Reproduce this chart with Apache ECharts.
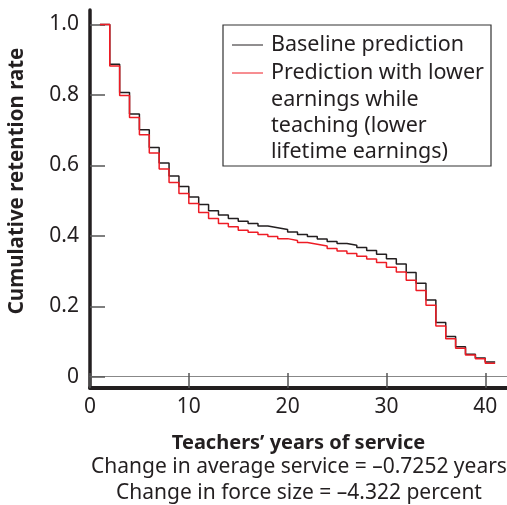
<!DOCTYPE html>
<html>
<head>
<meta charset="utf-8">
<script src="https://cdn.jsdelivr.net/npm/echarts@6/dist/echarts.min.js"></script>
<style>
html,body{margin:0;padding:0;background:#fff;}
#chart{width:507px;height:505px;}
</style>
</head>
<body>
<div id="chart"></div>
<script>
// Years of service (step start positions; last entry closes the final step)
const years = [1,2,3,4,5,6,7,8,9,10,11,12,13,14,15,16,17,18,19,20,21,22,23,24,25,26,27,28,29,30,31,32,33,34,35,36,37,38,39,40,41];
// Baseline prediction (cumulative retention rate)
const baseline = [1.0,0.887,0.807,0.746,0.701,0.651,0.607,0.570,0.540,0.510,0.489,0.471,0.459,0.449,0.441,0.435,0.428,0.423,0.418,0.411,0.404,0.398,0.391,0.384,0.378,0.373,0.367,0.358,0.348,0.335,0.320,0.296,0.265,0.218,0.154,0.114,0.085,0.064,0.053,0.042,0.042];
// Prediction with lower earnings while teaching
const lowerEarnings = [1.0,0.882,0.798,0.736,0.687,0.635,0.590,0.551,0.520,0.492,0.466,0.449,0.435,0.4255,0.416,0.410,0.404,0.398,0.392,0.387,0.381,0.376,0.371,0.364,0.357,0.350,0.342,0.334,0.324,0.311,0.297,0.274,0.245,0.203,0.144,0.108,0.081,0.062,0.051,0.038,0.038];
const xTicks = [0,10,20,30,40];
const yTicks = [0,0.2,0.4,0.6,0.8,1.0];
const seriesNames = ['Baseline prediction','Prediction with lower earnings while teaching (lower lifetime earnings)'];
const legendLines = ['Baseline prediction','Prediction with lower','earnings while','teaching (lower','lifetime earnings)'];
const xTitle = 'Teachers\u2019 years of service';
const yTitle = 'Cumulative retention rate';
const notes = ['Change in average service = \u20130.7252 years','Change in force size = \u20134.322 percent'];

const FONT = '"Noto Sans", sans-serif';
const chart = echarts.init(document.getElementById('chart'), null, {renderer:'canvas'});
const pair = arr => years.map((y,i)=>[y, arr[i]]);

chart.setOption({
  animation:false,
  backgroundColor:'#fff',
  grid:{left:90, top:10, width:417, height:378, containLabel:false},
  xAxis:[{
    type:'value', min:0, max:42.2,
    axisLine:{show:true, onZero:false, lineStyle:{color:'#231f20', width:4}},
    axisTick:{show:true, inside:true, length:15, customValues:xTicks, lineStyle:{color:'#555', width:1.5}},
    axisLabel:{show:true, customValues:xTicks, color:'#231f20', fontSize:21, fontFamily:FONT, margin:9},
    splitLine:{show:false},
    name:xTitle, nameLocation:'middle', nameGap:45,
    nameTextStyle:{fontSize:20, fontWeight:'bold', color:'#231f20', fontFamily:FONT}
  },{
    type:'value', position:'top', min:0, max:42.2,
    axisLine:{show:true, lineStyle:{color:'#888', width:1}},
    axisTick:{show:false}, axisLabel:{show:false}, splitLine:{show:false}
  }],
  yAxis:{
    type:'value', min:-0.032, max:1.041,
    axisLine:{show:true, onZero:false, lineStyle:{color:'#231f20', width:3.5}},
    axisTick:{show:true, inside:true, length:15, customValues:yTicks, lineStyle:{color:'#555', width:1.5}},
    axisLabel:{show:true, customValues:yTicks, color:'#231f20', fontSize:21, fontFamily:FONT, margin:11,
      formatter: v => v === 0 ? '0' : v.toFixed(1)},
    splitLine:{show:false}
  },
  series:[
    {name:seriesNames[0], type:'line', step:'end', showSymbol:false, data:pair(baseline),
     lineStyle:{color:'#231f20', width:1.5}, z:2},
    {name:seriesNames[1], type:'line', step:'end', showSymbol:false, data:pair(lowerEarnings),
     lineStyle:{color:'#ee1c25', width:1.5}, z:3}
  ],
  graphic:[
    {type:'text', x:17, y:181, rotation:Math.PI/2,
     style:{text:yTitle, fontSize:20.5, fontWeight:'bold', fontFamily:FONT, fill:'#231f20', align:'center', verticalAlign:'middle'}},
    {type:'text', x:299, y:467,
     style:{text:notes[0], fontSize:21, fontFamily:FONT, fill:'#231f20', align:'center', verticalAlign:'middle'}},
    {type:'text', x:299, y:493,
     style:{text:notes[1], fontSize:21, fontFamily:FONT, fill:'#231f20', align:'center', verticalAlign:'middle'}},
    {type:'rect', shape:{x:223, y:25, width:268, height:141},
     style:{fill:'#fff', stroke:'#333', lineWidth:1.2}, z:10},
    {type:'line', shape:{x1:232, y1:45, x2:263, y2:45}, style:{stroke:'#231f20', lineWidth:1}, z:11},
    {type:'line', shape:{x1:232, y1:73, x2:263, y2:73}, style:{stroke:'#ee1c25', lineWidth:1}, z:11},
    ...legendLines.map((t,i)=>({type:'text', x:271, y:[45,73,100,126,152][i], z:11,
      style:{text:t, fontSize:21.5, fontFamily:FONT, fill:'#231f20', align:'left', verticalAlign:'middle'}}))
  ]
});
</script>
</body>
</html>
